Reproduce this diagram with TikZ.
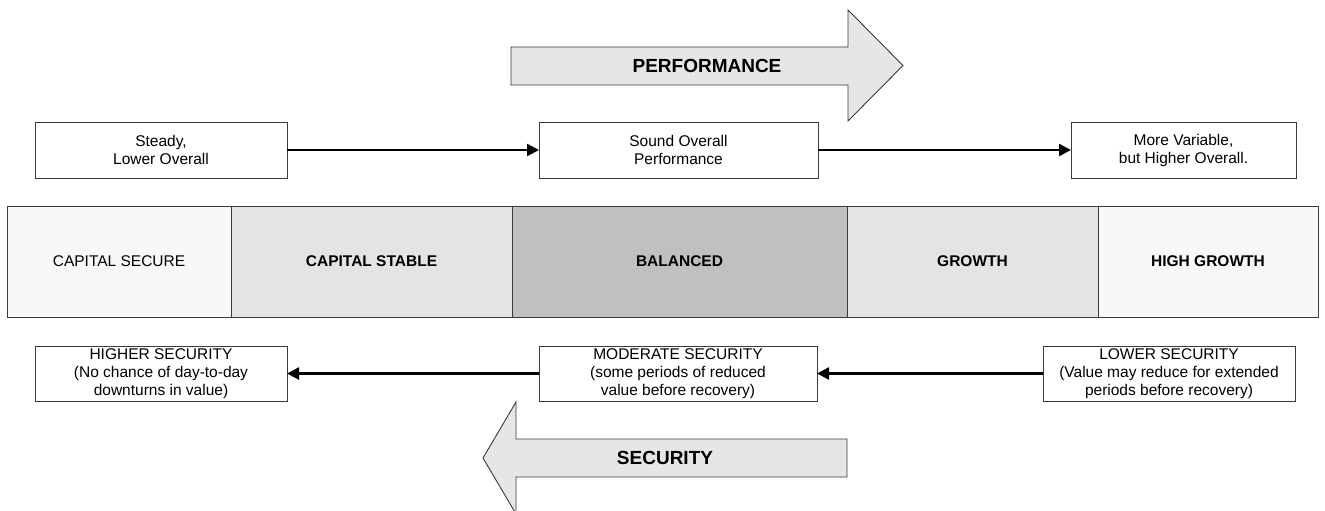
\documentclass[tikz,border=0pt]{standalone}
\usepackage{fontspec}
\setmainfont{Liberation Sans}
\usetikzlibrary{arrows.meta}
\definecolor{cellpale}{HTML}{F8F8F8}
\definecolor{celllight}{HTML}{E4E4E4}
\definecolor{cellmid}{HTML}{C0C0C0}
\definecolor{arrowfill}{HTML}{E6E6E6}
\definecolor{edge}{HTML}{3A3A3A}
\tikzset{
BOX/.style={draw=edge, line width=0.9pt, fill=white, minimum width=#1, minimum height=56pt, inner sep=0pt, outer sep=0pt, align=center, font=\fontsize{15.5}{18}\selectfont},
CELL/.style={draw=edge, line width=0.9pt, fill=#1, minimum height=111pt, inner sep=0pt, outer sep=0pt, anchor=north west, font=\fontsize{15.5}{18}\selectfont},
LINK/.style={line width=2.4pt, -{Triangle[length=12pt,width=12pt]}},
BIGARROW/.style={draw=edge, line width=0.9pt, fill=arrowfill, line join=miter},
BIGTEXT/.style={font=\bfseries\fontsize{19}{22}\selectfont},
}

\begin{document}
\begin{tikzpicture}[x=1pt, y=-1pt]
	\useasboundingbox (0,0) rectangle (1325,511);
	% big direction arrows
	\path[BIGARROW] (511,47) -- (848,47) -- (848,10) -- (903,65.5) -- (848,121) -- (848,85) -- (511,85) -- cycle;
	\node[BIGTEXT] (perflabel) at (707,66) {PERFORMANCE};
	\path[BIGARROW] (847,439) -- (516,439) -- (516,402) -- (483,458) -- (516,514) -- (516,477) -- (847,477) -- cycle;
	\node[BIGTEXT] (seclabel) at (665,458) {SECURITY};
	% performance row
	\node[BOX=252pt] (steady) at (161,150) {Steady,\\Lower Overall};
	\node[BOX=279pt] (sound) at (678.5,150) {Sound Overall\\Performance};
	\node[BOX=225pt] (variable) at (1183.5,150) {More Variable,\\but Higher Overall.};
	\draw[LINK] (steady.east) -- (sound.west);
	\draw[LINK] (sound.east) -- (variable.west);
	% fund bands
	\node[CELL=cellpale, minimum width=224pt] (secure) at (7,206) {CAPITAL SECURE};
	\node[CELL=celllight, minimum width=281pt, font=\bfseries\fontsize{15.5}{18}\selectfont] (stable) at (secure.north east) {CAPITAL STABLE};
	\node[CELL=cellmid, minimum width=335pt, font=\bfseries\fontsize{15.5}{18}\selectfont] (balanced) at (stable.north east) {BALANCED};
	\node[CELL=celllight, minimum width=251pt, font=\bfseries\fontsize{15.5}{18}\selectfont] (growth) at (balanced.north east) {GROWTH};
	\node[CELL=cellpale, minimum width=220pt, font=\bfseries\fontsize{15.5}{18}\selectfont] (highgrowth) at (growth.north east) {HIGH GROWTH};
	% security row
	\node[BOX=252pt, minimum height=55pt] (highsec) at (161,373.5) {HIGHER SECURITY\\(No chance of day-to-day\\downturns in value)};
	\node[BOX=278pt, minimum height=55pt] (modsec) at (678,373.5) {MODERATE SECURITY\\(some periods of reduced\\value before recovery)};
	\node[BOX=252pt, minimum height=55pt] (lowsec) at (1169,373.5) {LOWER SECURITY\\(Value may reduce for extended\\periods before recovery)};
	\draw[LINK] (lowsec.west) -- (modsec.east);
	\draw[LINK] (modsec.west) -- (highsec.east);
\end{tikzpicture}
\end{document}
